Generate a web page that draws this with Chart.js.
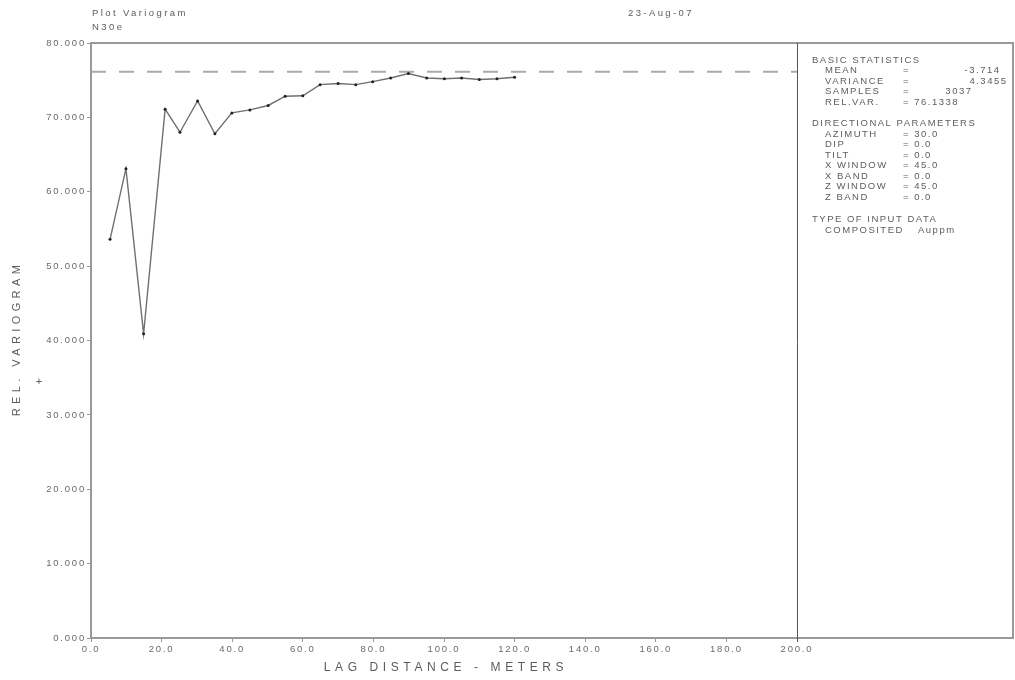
<!DOCTYPE html>
<html lang="en">
<head>
    <meta charset="UTF-8">
    <title>Plot Variogram</title>
    <script src="https://cdn.jsdelivr.net/npm/chart.js@4.4.0/dist/chart.umd.min.js"></script>
    <style>
        html, body { margin: 0; padding: 0; background: #fff; }
        #wrap { width: 1015px; height: 680px; }
    </style>
</head>
<body>
    <div id="wrap">
        <canvas id="vario" width="1015" height="680"></canvas>
    </div>

    <script>
        // Lag distances (m) and relative variogram values
        const lags = [5.4, 9.9, 14.9, 21, 25.2, 30.2, 35.1, 39.9, 45, 50.2, 55, 60,
                      64.9, 70, 75, 79.8, 84.9, 89.9, 95.1, 100.1, 105, 110, 115, 120];
        const relVario = [53.6, 63.1, 40.9, 71.1, 68.0, 72.2, 67.8, 70.6, 71.0, 71.6, 72.85, 72.9,
                          74.4, 74.55, 74.4, 74.8, 75.3, 75.9, 75.3, 75.2, 75.3, 75.1, 75.2, 75.4];
        const relVar = 76.1338;
        const xRange = [0, 200];
        const yRange = [0, 80];

        // Stats panel text
        const statLines = [
            ['BASIC STATISTICS', 812, 60],
            ['MEAN', 825, 70.7], ['VARIANCE', 825, 81.3], ['SAMPLES', 825, 91.8], ['REL.VAR.', 825, 102.3],
            ['DIRECTIONAL PARAMETERS', 812, 123],
            ['AZIMUTH', 825, 134], ['DIP', 825, 144.5], ['TILT', 825, 155], ['X WINDOW', 825, 165.5],
            ['X BAND', 825, 176], ['Z WINDOW', 825, 186.5], ['Z BAND', 825, 197],
            ['TYPE OF INPUT DATA', 812, 219],
            ['COMPOSITED', 825, 230], ['Auppm', 918, 230]
        ];
        const eqLines = [
            // [text, x, y, align]
            ['=', 903, 70.7, 'left'], ['-3.714', 999, 70.7, 'right'],
            ['=', 903, 81.3, 'left'], ['4.3455', 1006, 81.3, 'right'],
            ['=', 903, 91.8, 'left'], ['3037', 971, 91.8, 'right'],
            ['= ' + relVar.toFixed(4), 903, 102.3, 'left'],
            ['= 30.0', 903, 134, 'left'], ['= 0.0', 903, 144.5, 'left'], ['= 0.0', 903, 155, 'left'],
            ['= 45.0', 903, 165.5, 'left'], ['= 0.0', 903, 176, 'left'], ['= 45.0', 903, 186.5, 'left'],
            ['= 0.0', 903, 197, 'left']
        ];

        const FONT = "'Liberation Sans', Arial, sans-serif";

        const sketchPlugin = {
            id: 'sketch',
            beforeDraw(chart) {
                const ctx = chart.ctx;
                ctx.save();
                ctx.fillStyle = '#fff';
                ctx.fillRect(0, 0, chart.width, chart.height);
                ctx.restore();
                ctx.letterSpacing = '1.8px';
            },
            afterDraw(chart) {
                const ctx = chart.ctx;
                const a = chart.chartArea;
                ctx.save();

                // frame around plot + stats panel
                ctx.strokeStyle = '#999';
                ctx.lineWidth = 2;
                ctx.beginPath();
                ctx.moveTo(a.left, a.top);
                ctx.lineTo(1013, a.top);
                ctx.lineTo(1013, a.bottom);
                ctx.lineTo(a.right, a.bottom);
                ctx.stroke();
                ctx.strokeStyle = '#555';
                ctx.lineWidth = 1;
                ctx.beginPath();
                ctx.moveTo(a.right + 0.5, a.top);
                ctx.lineTo(a.right + 0.5, a.bottom + 4);
                ctx.stroke();

                ctx.fillStyle = '#5c5c5c';
                ctx.textBaseline = 'middle';

                // header
                ctx.font = '9.5px ' + FONT;
                ctx.letterSpacing = '2.4px';
                ctx.textAlign = 'left';
                ctx.fillText('Plot Variogram', 92, 13);
                ctx.fillText('N30e', 92, 27);
                ctx.fillText('23-Aug-07', 628, 13);

                // stats panel
                ctx.letterSpacing = '1.5px';
                statLines.forEach(([t, x, y]) => ctx.fillText(t, x, y));
                eqLines.forEach(([t, x, y, al]) => {
                    ctx.textAlign = al;
                    ctx.fillText(t, al === 'right' ? x + 1.5 : x, y);
                });

                // axis titles
                ctx.textAlign = 'center';
                ctx.font = '12px ' + FONT;
                ctx.letterSpacing = '4.6px';
                ctx.fillText('LAG DISTANCE - METERS', (a.left + a.right) / 2 + 2, 668);

                ctx.save();
                ctx.translate(17, (a.top + a.bottom) / 2);
                ctx.rotate(-Math.PI / 2);
                ctx.font = '11px ' + FONT;
                ctx.letterSpacing = '4.4px';
                ctx.fillText('REL. VARIOGRAM', 2, 0);
                ctx.restore();

                ctx.font = '11px ' + FONT;
                ctx.letterSpacing = '0px';
                ctx.fillText('+', 39, 382);

                ctx.restore();
                ctx.letterSpacing = '0px';
            }
        };

        const points = lags.map((x, i) => ({ x: x, y: relVario[i] }));
        const sill = xRange.map(x => ({ x: x, y: relVar }));

        new Chart(document.getElementById('vario'), {
            type: 'line',
            data: {
                datasets: [{
                    data: points,
                    borderColor: '#707070',
                    borderWidth: 1.4,
                    pointRadius: 1.5,
                    pointBackgroundColor: '#222',
                    pointBorderWidth: 0,
                    tension: 0
                }, {
                    data: sill,
                    borderColor: '#aaa',
                    borderWidth: 2,
                    borderDash: [15, 13],
                    pointRadius: 0
                }]
            },
            options: {
                responsive: false,
                animation: false,
                devicePixelRatio: 1,
                layout: { padding: { top: 43, right: 218, left: 0, bottom: 0 } },
                plugins: { legend: { display: false }, tooltip: { enabled: false } },
                scales: {
                    x: {
                        type: 'linear',
                        min: xRange[0],
                        max: xRange[1],
                        afterFit: s => { s.height = 42; },
                        border: { display: true, color: '#999', width: 2 },
                        grid: { drawOnChartArea: false, drawTicks: true, tickLength: 4, color: '#999' },
                        ticks: {
                            stepSize: 20,
                            maxRotation: 0,
                            padding: 2,
                            color: '#6a6a6a',
                            font: { family: FONT, size: 9.5 },
                            callback: v => v.toFixed(1)
                        }
                    },
                    y: {
                        type: 'linear',
                        min: yRange[0],
                        max: yRange[1],
                        afterFit: s => { s.width = 91; },
                        border: { display: true, color: '#999', width: 2 },
                        grid: { drawOnChartArea: false, drawTicks: true, tickLength: 4, color: '#999' },
                        ticks: {
                            stepSize: 10,
                            padding: 1,
                            color: '#6a6a6a',
                            font: { family: FONT, size: 9.5 },
                            callback: v => v.toFixed(3)
                        }
                    }
                }
            },
            plugins: [sketchPlugin]
        });
    </script>
</body>
</html>
